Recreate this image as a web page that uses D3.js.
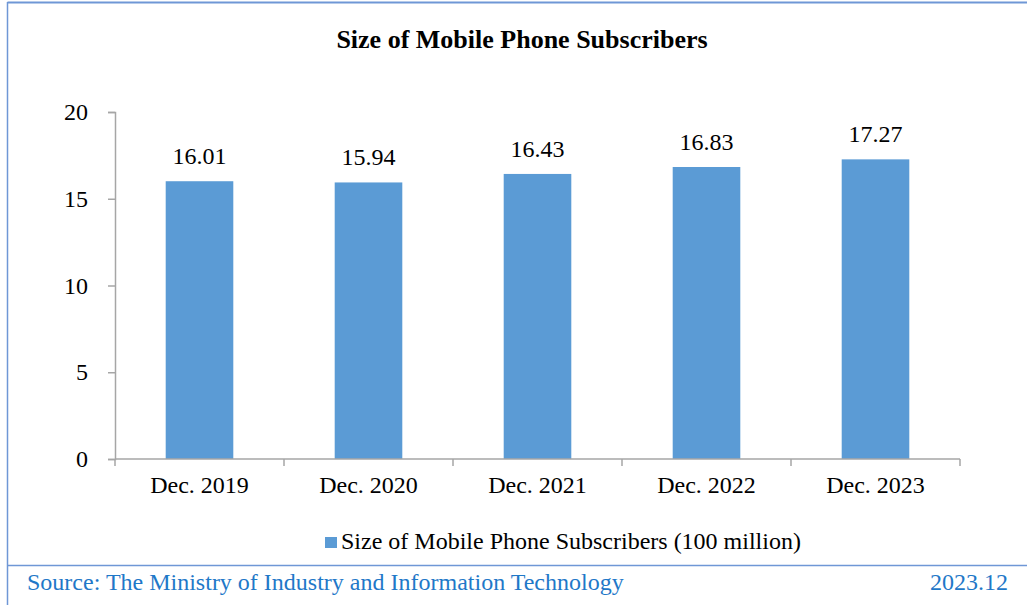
<!DOCTYPE html>
<html>
<head>
<meta charset="utf-8">
<script src="https://cdn.jsdelivr.net/npm/d3@7"></script>
<style>
  html, body { margin: 0; padding: 0; background: #fff; }
  svg { display: block; }
  text { font-family: "Liberation Serif", "Times New Roman", serif; }
</style>
</head>
<body>
<svg id="chart" width="1027" height="605"></svg>
<script>
const categories = ["Dec. 2019", "Dec. 2020", "Dec. 2021", "Dec. 2022", "Dec. 2023"];
const subscribers = [16.01, 15.94, 16.43, 16.83, 17.27];
const yTicks = [0, 5, 10, 15, 20];
const titleText = "Size of Mobile Phone Subscribers";
const legendText = "Size of Mobile Phone Subscribers (100 million)";
const sourceText = "Source: The Ministry of Industry and Information Technology";
const dateText = "2023.12";

(function draw() {
  const svg = d3.select("#chart");
  const W = 1027, H = 605;
  const frameColor = "#6F97D6";
  const axisColor = "#A6A6A6";
  const barColor = "#5B9BD5";
  const footColor = "#1F78C8";
  const fs = 24;

  // outer frame
  svg.append("line").attr("x1", 7.5).attr("x2", W).attr("y1", 2.5).attr("y2", 2.5)
    .attr("stroke", frameColor).attr("stroke-width", 2);
  svg.append("line").attr("x1", 7.5).attr("x2", 7.5).attr("y1", 2).attr("y2", H)
    .attr("stroke", frameColor).attr("stroke-width", 1.5);
  svg.append("line").attr("x1", 7.5).attr("x2", W).attr("y1", 565.5).attr("y2", 565.5)
    .attr("stroke", frameColor).attr("stroke-width", 1.5);

  // title
  svg.append("text").attr("x", 522).attr("y", 48).attr("text-anchor", "middle")
    .attr("font-size", 26).attr("font-weight", "bold").attr("fill", "#000").text(titleText);

  const plotLeft = 115, plotRight = 960, plotTop = 112, plotBottom = 459;

  const x = d3.scaleBand().domain(categories).range([plotLeft, plotRight]).paddingInner(0).paddingOuter(0);
  const y = d3.scaleLinear().domain([0, 20]).range([plotBottom, plotTop]);
  const barW = x.bandwidth() * 0.4;

  // bars
  svg.append("g").selectAll("rect").data(subscribers).join("rect")
    .attr("x", (d, i) => x(categories[i]) + (x.bandwidth() - barW) / 2)
    .attr("y", d => y(d))
    .attr("width", barW)
    .attr("height", d => y(0) - y(d))
    .attr("fill", barColor);

  // value labels
  svg.append("g").selectAll("text").data(subscribers).join("text")
    .attr("x", (d, i) => x(categories[i]) + x.bandwidth() / 2)
    .attr("y", d => y(d) - 17)
    .attr("text-anchor", "middle")
    .attr("font-size", fs)
    .attr("fill", "#000")
    .text(d => d.toFixed(2));

  // y axis
  const yAxis = svg.append("g").attr("transform", `translate(${plotLeft},0)`)
    .call(d3.axisLeft(y).tickValues(yTicks).tickSize(7).tickPadding(20));
  yAxis.select(".domain").attr("stroke", axisColor).attr("stroke-width", 1.5);
  yAxis.selectAll(".tick line").attr("stroke", axisColor).attr("stroke-width", 1.5);
  yAxis.selectAll(".tick text").attr("font-size", fs).attr("fill", "#000")
    .attr("font-family", "Liberation Serif, serif");

  // x axis with boundary ticks between categories
  const xAxisG = svg.append("g").attr("transform", `translate(0,${plotBottom})`);
  xAxisG.append("line").attr("x1", plotLeft).attr("x2", plotRight).attr("y1", 0).attr("y2", 0)
    .attr("stroke", axisColor).attr("stroke-width", 1.5);
  const boundaries = categories.map(c => x(c)).concat([x(categories[categories.length - 1]) + x.bandwidth()]);
  xAxisG.selectAll("line.b").data(boundaries).join("line").attr("class", "b")
    .attr("x1", d => d).attr("x2", d => d).attr("y1", 0).attr("y2", 7)
    .attr("stroke", axisColor).attr("stroke-width", 1.5);
  xAxisG.selectAll("text").data(categories).join("text")
    .attr("x", d => x(d) + x.bandwidth() / 2)
    .attr("y", 34)
    .attr("text-anchor", "middle")
    .attr("font-size", fs)
    .attr("fill", "#000")
    .text(d => d);

  // legend
  const legend = svg.append("g");
  legend.append("rect").attr("x", 325).attr("y", 537).attr("width", 12).attr("height", 11).attr("fill", barColor);
  legend.append("text").attr("x", 341).attr("y", 549).attr("font-size", fs).attr("fill", "#000").text(legendText);

  // footer
  svg.append("text").attr("x", 27).attr("y", 590).attr("font-size", fs).attr("fill", footColor).text(sourceText);
  svg.append("text").attr("x", 1008).attr("y", 590).attr("text-anchor", "end").attr("font-size", fs).attr("fill", footColor).text(dateText);
})();
</script>
</body>
</html>
